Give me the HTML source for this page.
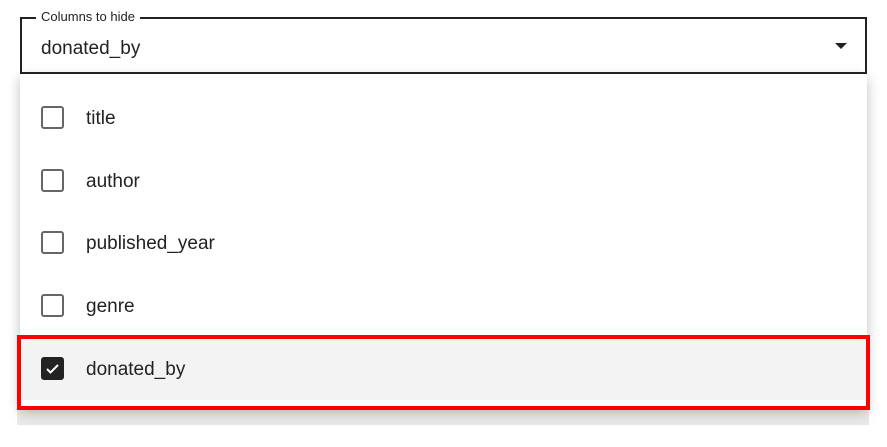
<!DOCTYPE html>
<html><head><style>
body{margin:0;width:887px;height:447px;background:#fff;position:relative;overflow:hidden;font-family:"Liberation Sans",sans-serif;color:#222}
.field{position:absolute;left:20px;top:17px;width:843px;height:53px;border:2px solid #222;}
.legend{position:absolute;left:36px;top:9px;background:#fff;padding:0 5px;font-size:13px;color:#222}
.val{position:absolute;left:41px;top:38px;font-size:19px}
.arrow{position:absolute;left:835px;top:43px;width:0;height:0;border-left:6px solid transparent;border-right:6px solid transparent;border-top:6px solid #222}
.grey{position:absolute;left:17px;top:400px;width:852px;height:25px;background:#e9e9e9}
.menu{position:absolute;left:20px;top:74px;width:847px;height:334px;background:#fff;box-shadow:0 4px 12px rgba(0,0,0,.25)}
.row{position:absolute;left:0;width:847px;height:63px}
.cb{position:absolute;left:21px;top:20px;width:19px;height:19px;border:2px solid #666;border-radius:3px;background:#fff}
.lab{position:absolute;left:66px;top:22px;font-size:19px}
.sel{background:#f3f3f3}
.sel .cb{background:#222;border-color:#222}
.red{position:absolute;left:17px;top:335px;width:845px;height:67px;border:4px solid #f00}
</style></head><body>
<div class="grey"></div>
<div class="menu">
<div class="row" style="top:12px"><div class="cb"></div><div class="lab">title</div></div>
<div class="row" style="top:75px"><div class="cb"></div><div class="lab">author</div></div>
<div class="row" style="top:137px"><div class="cb"></div><div class="lab">published_year</div></div>
<div class="row" style="top:200px"><div class="cb"></div><div class="lab">genre</div></div>
<div class="row sel" style="top:263px"><div class="cb"><svg width="19" height="19" viewBox="0 0 19 19"><path d="M4 10l3.5 3.5L15 6" stroke="#fff" stroke-width="2" fill="none"/></svg></div><div class="lab">donated_by</div></div>
</div>
<div class="field"></div>
<div class="legend">Columns to hide</div>
<div class="val">donated_by</div>
<div class="arrow"></div>
<div class="red"></div>
</body></html>
